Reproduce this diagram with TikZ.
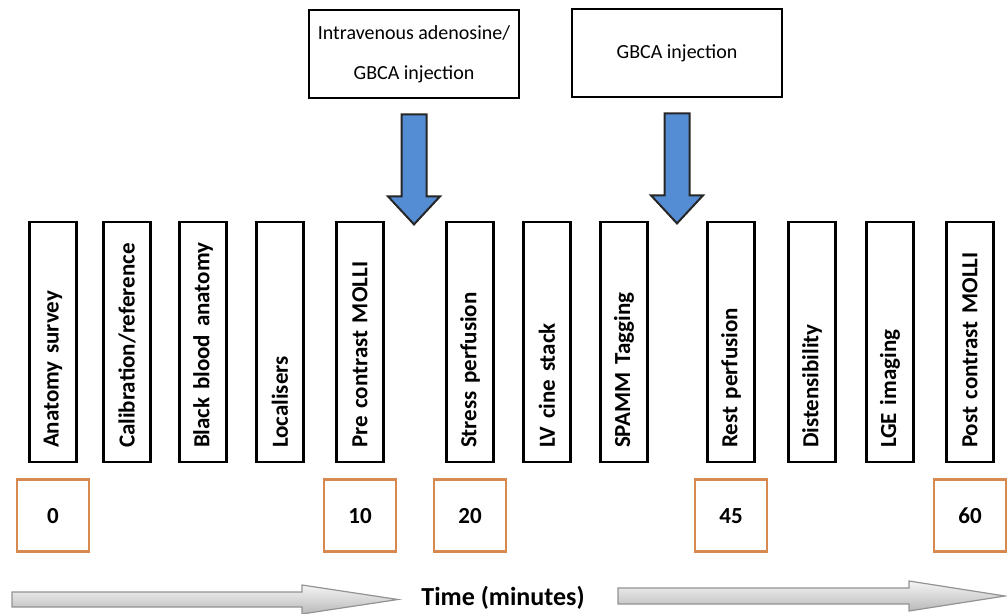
\documentclass[tikz,border=0pt]{standalone}
\usepackage{fontspec}
\setmainfont{Carlito}
\usepackage{tikz}
\usetikzlibrary{shapes,positioning,calc}
\definecolor{timeorange}{RGB}{214,138,80}
\definecolor{doseblue}{RGB}{84,141,212}

% fat arrow hanging below an injection box
\newcommand{\dosearrow}[1]{%
  \draw[doseA] ($(#1.south)+(-12.5,15)$) -- ++(25,0) -- ++(0,82)
     -- ++(13.5,0) -- ++(-26,28) -- ++(-26,-28) -- ++(13.5,0) -- cycle;}

\begin{document}
\begin{tikzpicture}
  [x=0.5pt,y=-0.5pt,
   stepbox/.style={draw,line width=1.4pt,rotate=90,minimum width=120pt,
     minimum height=23.25pt,text width=106pt,inner xsep=7pt,align=left,
     font=\bfseries\fontsize{11.5}{13}\selectfont},
   injbox/.style={draw,line width=1.4pt,minimum width=105pt,minimum height=44pt,
     align=center,font=\fontsize{10}{20}\selectfont},
   minbox/.style={draw=timeorange,line width=1.4pt,minimum size=36pt,anchor=north,
     font=\bfseries\fontsize{11.5}{13}\selectfont},
   doseA/.style={fill=doseblue,draw=black!85,line width=1pt,line join=miter},
   timeA/.style={top color=gray!8,bottom color=gray!55,draw=gray!85,line width=0.6pt}]

  \useasboundingbox (0,0) rectangle (1007,614);

  % injections
  \node[injbox] (adeno) at (414,54) {Intravenous adenosine/\\GBCA injection};
  \node[injbox] (gbca) at (677,53) {GBCA injection};

  % protocol steps (rotated, text runs upwards)
  \node[stepbox] (anat) at (53,342) {Anatomy survey};
  \node[stepbox] (calib) at (127,342) {Calibration/reference};
  \node[stepbox] (black) at (203,342) {Black blood anatomy};
  \node[stepbox] (local) at (280,342) {Localisers};
  \node[stepbox] (premolli) at (360,342) {Pre contrast MOLLI};
  \node[stepbox] (stress) at (470,342) {Stress perfusion};
  \node[stepbox] (cine) at (547,342) {LV cine stack};
  \node[stepbox] (spamm) at (624,342) {SPAMM Tagging};
  \node[stepbox] (rest) at (731,342) {Rest perfusion};
  \node[stepbox] (disten) at (812,342) {Distensibility};
  \node[stepbox] (lge) at (890,342) {LGE imaging};
  \node[stepbox] (postmolli) at (970,342) {Post contrast MOLLI};

  \dosearrow{adeno}
  \dosearrow{gbca}

  % minutes
  \node[minbox] (t0) at ($(anat.west)+(0,15)$) {0};
  \node[minbox] (t10) at ($(premolli.west)+(0,15)$) {10};
  \node[minbox] (t20) at ($(stress.west)+(0,15)$) {20};
  \node[minbox] (t45) at ($(rest.west)+(0,15)$) {45};
  \node[minbox] (t60) at ($(postmolli.west)+(0,15)$) {60};

  % time axis
  \node[font=\bfseries\fontsize{13}{15}\selectfont] (time) at (503,598) {Time (minutes)};
  \shade[timeA] (12,592) -- (302,592) -- (302,585) -- (398,599.5)
     -- (302,614) -- (302,607) -- (12,607) -- cycle;
  \shade[timeA] (618,588) -- (909,588) -- (909,581) -- (1005,596)
     -- (909,611) -- (909,604) -- (618,604) -- cycle;

\end{tikzpicture}
\end{document}
